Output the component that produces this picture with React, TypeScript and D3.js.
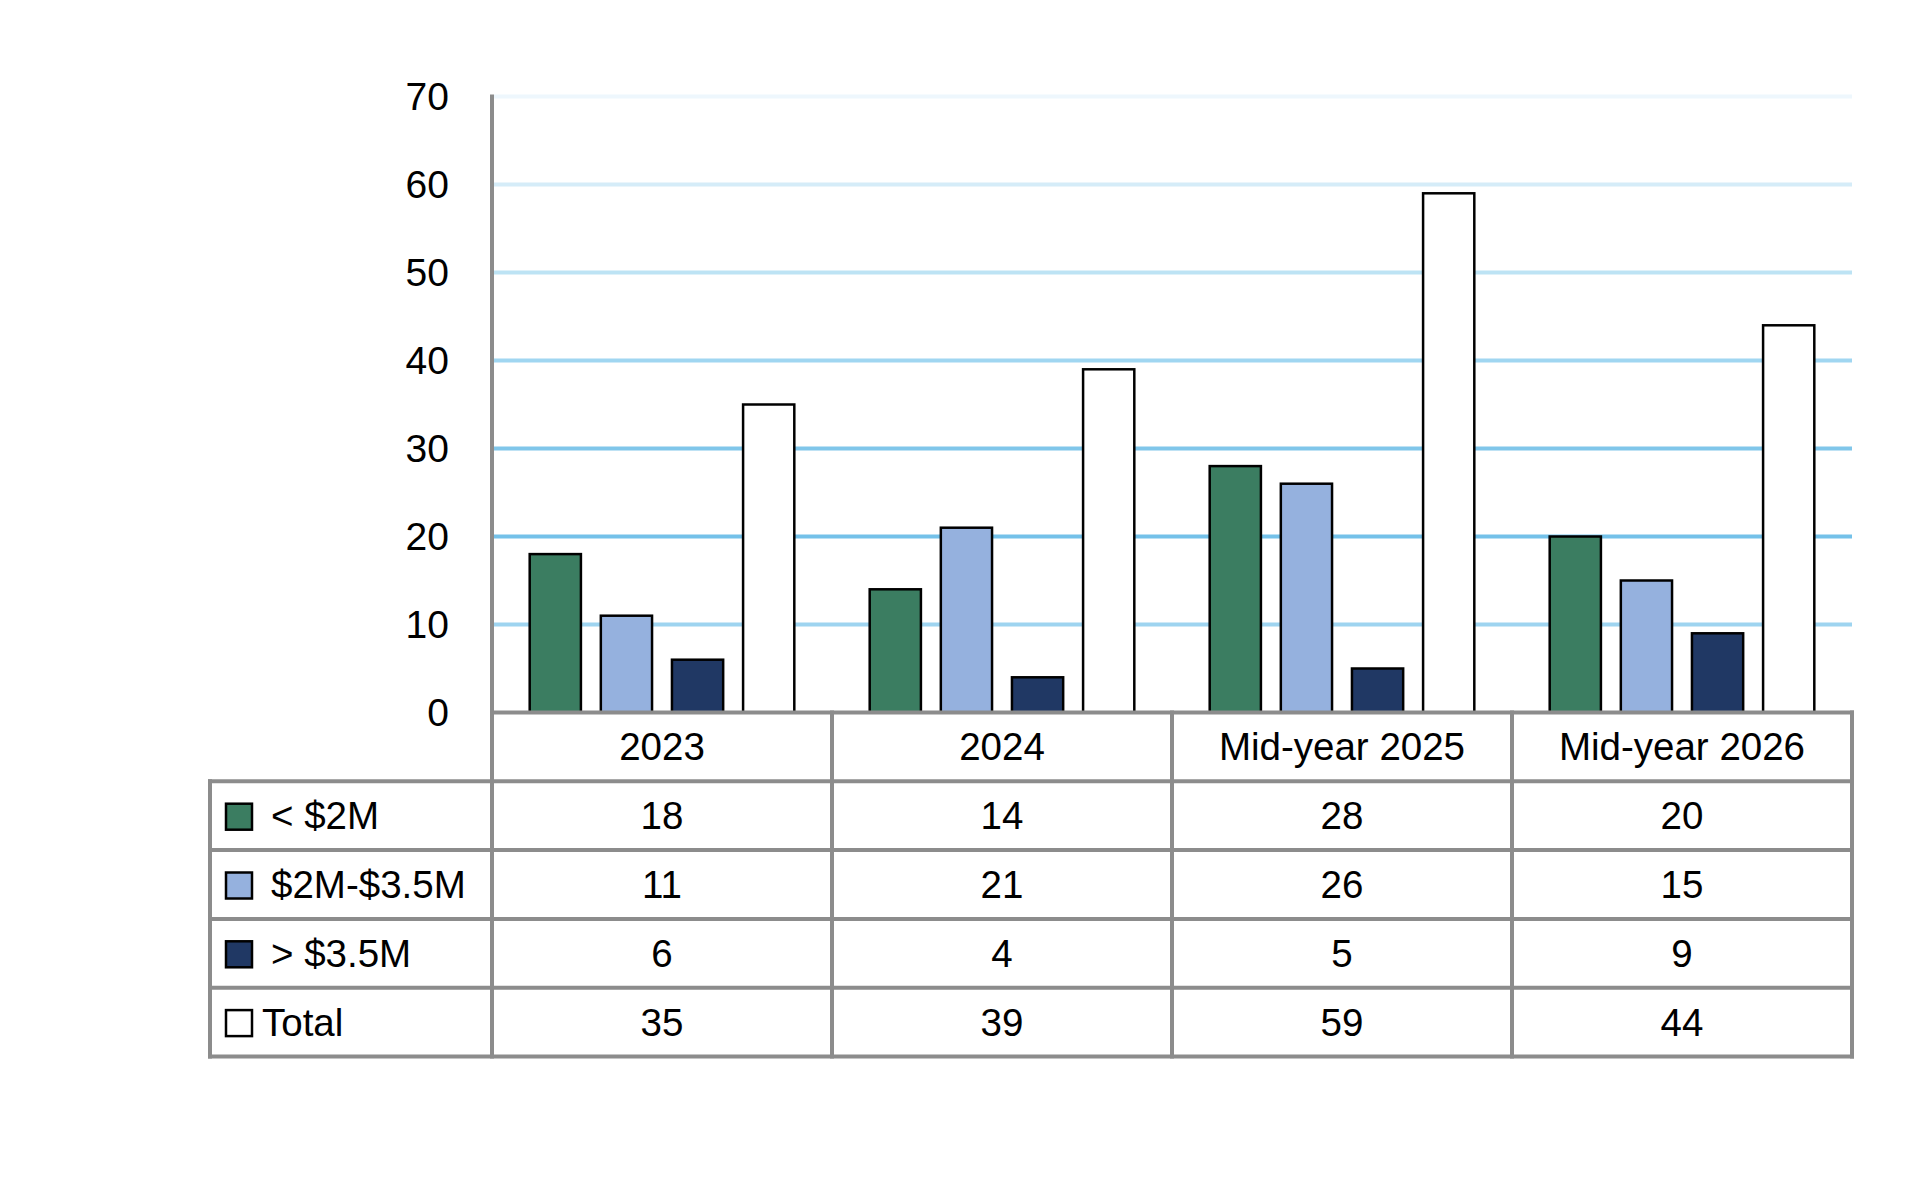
import * as d3 from 'd3';

const categories = ['2023', '2024', 'Mid-year 2025', 'Mid-year 2026'];
const seriesNames = ['< $2M', '$2M-$3.5M', '> $3.5M', 'Total'];
const under2M = [18, 14, 28, 20];
const mid2to35M = [11, 21, 26, 15];
const over35M = [6, 4, 5, 9];
const totals = [35, 39, 59, 44];
const seriesValues = [under2M, mid2to35M, over35M, totals];
const seriesColors = ['#3b7d61', '#95b1de', '#203864', '#ffffff'];
const yTicks = [0, 10, 20, 30, 40, 50, 60, 70];
// gridlines fade out toward the top
const gridColors: Record<number, string> = {
  10: '#9ed4f0',
  20: '#74c1e9',
  30: '#80c6ea',
  40: '#a0d6f1',
  50: '#bde3f4',
  60: '#d5ecf8',
  70: '#eef7fd',
};

const W = 1920;
const H = 1195;
const plotLeft = 492;
const plotRight = 1852;
const tableLeft = 210;
const rowH = 68.8;
const font = '"Liberation Sans", Arial, sans-serif';
const lineGray = '#8c8c8c';

export default function App() {
  const y = d3.scaleLinear().domain([0, 70]).range([712.5, 96.5]);
  const x = d3.scaleBand<string>().domain(categories).range([plotLeft, plotRight]);
  const xInner = d3
    .scaleBand<string>()
    .domain(seriesNames)
    .range([0, x.bandwidth()])
    .paddingInner(0.28)
    .paddingOuter(0.53);

  const top0 = y(0);
  const rowY = (k: number) => top0 + k * rowH;
  const nRows = seriesNames.length + 1;
  const bottom = rowY(nRows);

  return (
    <svg
      width={W}
      height={H}
      style={{ position: 'absolute', left: 0, top: 0, background: '#fff' }}
      fontFamily={font}
    >
      {/* gridlines */}
      {yTicks
        .filter((t) => t > 0)
        .map((t) => (
          <line
            key={t}
            x1={plotLeft + 2}
            x2={plotRight}
            y1={y(t)}
            y2={y(t)}
            stroke={gridColors[t]}
            strokeWidth={4}
          />
        ))}

      {/* tick labels */}
      {yTicks.map((t) => (
        <text
          key={t}
          x={449}
          y={y(t)}
          textAnchor="end"
          dominantBaseline="central"
          fontSize={39}
          fill="#000"
        >
          {t}
        </text>
      ))}

      {/* bars */}
      {categories.map((c, ci) => (
        <g key={c} transform={`translate(${x(c)},0)`}>
          {seriesNames.map((s, si) => {
            const v = seriesValues[si][ci];
            return (
              <rect
                key={s}
                x={xInner(s)}
                y={y(v)}
                width={xInner.bandwidth()}
                height={top0 - y(v)}
                fill={seriesColors[si]}
                stroke="#000"
                strokeWidth={2.5}
              />
            );
          })}
        </g>
      ))}

      {/* data table lines */}
      <g stroke={lineGray} strokeWidth={4} strokeLinecap="square">
        <line x1={plotLeft} x2={plotRight} y1={top0} y2={top0} />
        {d3.range(1, nRows + 1).map((k) => (
          <line key={k} x1={tableLeft} x2={plotRight} y1={rowY(k)} y2={rowY(k)} />
        ))}
        <line x1={tableLeft} x2={tableLeft} y1={rowY(1)} y2={bottom} />
        <line x1={plotLeft} x2={plotLeft} y1={y(70)} y2={bottom} />
        {categories.map((c) => (
          <line
            key={c}
            x1={x(c)! + x.bandwidth()}
            x2={x(c)! + x.bandwidth()}
            y1={top0}
            y2={bottom}
          />
        ))}
      </g>

      {/* header row */}
      {categories.map((c) => (
        <text
          key={c}
          x={x(c)! + x.bandwidth() / 2}
          y={(rowY(0) + rowY(1)) / 2}
          textAnchor="middle"
          dominantBaseline="central"
          fontSize={38.5}
        >
          {c}
        </text>
      ))}

      {/* series rows */}
      {seriesNames.map((s, si) => {
        const cy = (rowY(si + 1) + rowY(si + 2)) / 2;
        return (
          <g key={s}>
            <rect
              x={226}
              y={cy - 12}
              width={26}
              height={26}
              fill={seriesColors[si]}
              stroke="#000"
              strokeWidth={2.5}
            />
            <text
              x={s === 'Total' ? 262 : 271}
              y={cy}
              dominantBaseline="central"
              fontSize={38.5}
            >
              {s}
            </text>
            {categories.map((c, ci) => (
              <text
                key={c}
                x={x(c)! + x.bandwidth() / 2}
                y={cy}
                textAnchor="middle"
                dominantBaseline="central"
                fontSize={38.5}
              >
                {seriesValues[si][ci]}
              </text>
            ))}
          </g>
        );
      })}
    </svg>
  );
}
